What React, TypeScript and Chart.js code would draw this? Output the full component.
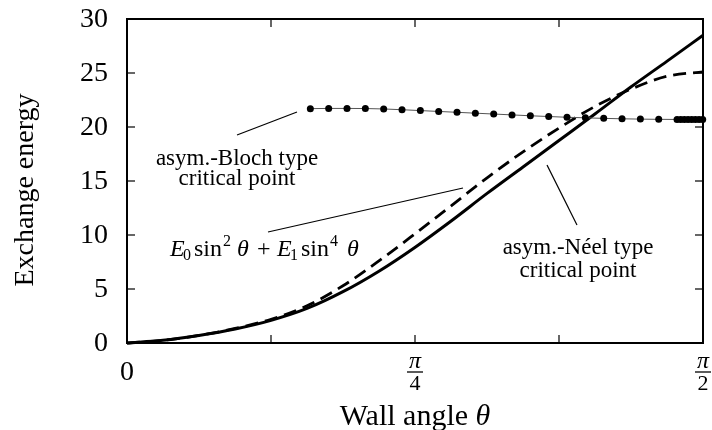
import React, { useEffect, useRef } from "react";
import { Chart, registerables } from "chart.js";
Chart.register(...registerables);

// ---- data ----
const curveTheta = [0, 0.098, 0.196, 0.295, 0.393, 0.491, 0.589, 0.687, 0.785, 0.884, 0.982, 1.08, 1.178, 1.276, 1.374, 1.473, 1.571];
const neelEnergy = [0, 0.25, 0.7, 1.3, 2.1, 3.2, 4.75, 6.65, 8.85, 11.3, 13.85, 16.3, 18.75, 21.2, 23.7, 26.1, 28.5];
const fitEnergy = [0, 0.25, 0.7, 1.35, 2.2, 3.45, 5.3, 7.6, 10.1, 12.7, 15.3, 17.7, 19.9, 21.9, 23.5, 24.7, 25.1];
const blochTheta = [0.5, 0.55, 0.6, 0.65, 0.7, 0.75, 0.8, 0.85, 0.9, 0.95, 1.0, 1.05, 1.1, 1.15, 1.2, 1.25, 1.3, 1.35, 1.4, 1.45, 1.5, 1.51, 1.52, 1.53, 1.54, 1.55, 1.56, 1.57];
const blochEnergy = [21.7, 21.72, 21.72, 21.71, 21.67, 21.6, 21.52, 21.44, 21.36, 21.28, 21.2, 21.12, 21.04, 20.97, 20.9, 20.85, 20.8, 20.76, 20.73, 20.71, 20.7, 20.7, 20.7, 20.7, 20.7, 20.7, 20.7, 20.7];

const xTickValues = [0, 0.3927, 0.7854, 1.1781, 1.5708];
const xTickLabels = ["0", "", "π/4", "", "π/2"];
const yTickValues = [0, 5, 10, 15, 20, 25, 30];
const yTickLabels = ["0", "5", "10", "15", "20", "25", "30"];

const xTitle = "Wall angle ";
const xTitleSymbol = "θ";
const yTitle = "Exchange energy";

// annotations (data coordinates: theta, energy)
const blochLeader = [0.3, 19.26, 0.4636, 21.39];
const formulaLeader = [0.3845, 10.28, 0.9163, 14.35];
const neelLeader = [1.1454, 16.48, 1.2272, 10.93];
const blochLabel = ["asym.-Bloch type", "critical point"];
const blochLabelAt = [0.3, 16.48];
const neelLabel = ["asym.-Néel type", "critical point"];
const neelLabelAt = [1.2299, 8.24];
const formulaAt = [0.117, 8.06];

const SERIF = "'Liberation Serif', 'Times New Roman', serif";

const decorPlugin = {
  id: "decor",
  beforeDraw(chart: any) {
    const ctx = chart.ctx;
    ctx.save();
    ctx.fillStyle = "#fff";
    ctx.fillRect(0, 0, chart.width, chart.height);
    ctx.restore();
  },
  afterDatasetsDraw(chart: any) {
    const ctx: CanvasRenderingContext2D = chart.ctx;
    const { left, right, top, bottom } = chart.chartArea;
    const xs = chart.scales.x;
    const ys = chart.scales.y;
    const X = (v: number) => xs.getPixelForValue(v);
    const Y = (v: number) => ys.getPixelForValue(v);
    const line = (x1: number, y1: number, x2: number, y2: number) => {
      ctx.beginPath();
      ctx.moveTo(x1, y1);
      ctx.lineTo(x2, y2);
      ctx.stroke();
    };
    ctx.save();
    ctx.strokeStyle = "#000";
    ctx.fillStyle = "#000";

    // inward tick marks
    ctx.lineWidth = 1.2;
    xTickValues.forEach((v) => {
      const px = X(v);
      line(px, bottom, px, bottom - 8);
      line(px, top, px, top + 8);
    });
    yTickValues.forEach((v) => {
      const py = Y(v);
      line(left, py, left + 8, py);
      line(right, py, right - 8, py);
    });

    // frame
    ctx.lineWidth = 2;
    ctx.strokeRect(left, top, right - left, bottom - top);

    // y tick labels
    ctx.font = `28px ${SERIF}`;
    ctx.textAlign = "right";
    ctx.textBaseline = "middle";
    yTickValues.forEach((v, i) => {
      ctx.fillText(yTickLabels[i], left - 19, Y(v) + 1);
    });

    // x tick labels
    xTickValues.forEach((v, i) => {
      const lab = xTickLabels[i];
      if (!lab) return;
      const px = X(v);
      if (lab.includes("/")) {
        const [num, den] = lab.split("/");
        ctx.textAlign = "center";
        ctx.textBaseline = "alphabetic";
        ctx.font = `italic 24px ${SERIF}`;
        ctx.fillText(num, px, bottom + 25);
        ctx.lineWidth = 1.3;
        line(px - 8, bottom + 29, px + 8, bottom + 29);
        ctx.font = `22px ${SERIF}`;
        ctx.fillText(den, px, bottom + 47);
      } else {
        ctx.textAlign = "center";
        ctx.textBaseline = "middle";
        ctx.font = `28px ${SERIF}`;
        ctx.fillText(lab, px, bottom + 30);
      }
    });

    // x title
    ctx.textBaseline = "alphabetic";
    ctx.font = `30px ${SERIF}`;
    const w1 = ctx.measureText(xTitle).width;
    ctx.font = `italic 30px ${SERIF}`;
    const w2 = ctx.measureText(xTitleSymbol).width;
    const cx = (left + right) / 2;
    const sx = cx - (w1 + w2) / 2;
    ctx.textAlign = "left";
    ctx.font = `30px ${SERIF}`;
    ctx.fillText(xTitle, sx, bottom + 82);
    ctx.font = `italic 30px ${SERIF}`;
    ctx.fillText(xTitleSymbol, sx + w1, bottom + 82);

    // y title
    ctx.save();
    ctx.translate(33, (top + bottom) / 2 + 9);
    ctx.rotate(-Math.PI / 2);
    ctx.textAlign = "center";
    ctx.textBaseline = "alphabetic";
    ctx.font = `28px ${SERIF}`;
    ctx.fillText(yTitle, 0, 0);
    ctx.restore();

    // leader lines
    ctx.lineWidth = 1.2;
    [blochLeader, formulaLeader, neelLeader].forEach((l) => {
      line(X(l[0]), Y(l[1]), X(l[2]), Y(l[3]));
    });

    // labels
    ctx.font = `23px ${SERIF}`;
    ctx.textAlign = "center";
    ctx.textBaseline = "alphabetic";
    blochLabel.forEach((t, i) => ctx.fillText(t, X(blochLabelAt[0]), Y(blochLabelAt[1]) + i * 20));
    neelLabel.forEach((t, i) => ctx.fillText(t, X(neelLabelAt[0]), Y(neelLabelAt[1]) + i * 23));

    // formula E0 sin^2 θ + E1 sin^4 θ
    const fx = X(formulaAt[0]);
    const fy = Y(formulaAt[1]);
    const big = `24px ${SERIF}`;
    const bigIt = `italic 24px ${SERIF}`;
    const small = `16px ${SERIF}`;
    ctx.textAlign = "left";
    const put = (t: string, f: string, x: number, dy: number) => {
      ctx.font = f;
      ctx.fillText(t, fx + x, fy + dy);
      return ctx.measureText(t).width;
    };
    put("E", bigIt, 0, 0);
    put("0", small, 13, 4);
    let w = put("sin", big, 24, 0);
    put("2", small, 24 + w + 1, -10);
    put("θ", bigIt, 67, 0);
    put("+", big, 87, 0);
    put("E", bigIt, 107, 0);
    put("1", small, 120, 4);
    w = put("sin", big, 131, 0);
    put("4", small, 131 + w + 1, -10);
    put("θ", bigIt, 177, 0);

    ctx.restore();
  },
};

export default function App() {
  const ref = useRef<HTMLCanvasElement>(null);
  useEffect(() => {
    if (!ref.current) return;
    const chart = new Chart(ref.current, {
      type: "line",
      data: {
        datasets: [
          {
            label: "asym.-Bloch type critical point",
            data: blochTheta.map((t, i) => ({ x: t, y: blochEnergy[i] })),
            borderColor: "#555",
            borderWidth: 1,
            pointRadius: 3.5,
            pointBackgroundColor: "#000",
            pointBorderWidth: 0,
            tension: 0,
            clip: false,
          },
          {
            label: "E0 sin^2 + E1 sin^4",
            data: curveTheta.map((t, i) => ({ x: t, y: fitEnergy[i] })),
            borderColor: "#000",
            borderWidth: 2.8,
            borderDash: [13, 7],
            pointRadius: 0,
            cubicInterpolationMode: "monotone",
            clip: false,
          },
          {
            label: "asym.-Néel type critical point",
            data: curveTheta.map((t, i) => ({ x: t, y: neelEnergy[i] })),
            borderColor: "#000",
            borderWidth: 3,
            pointRadius: 0,
            cubicInterpolationMode: "monotone",
            clip: false,
          },
        ],
      },
      options: {
        animation: false,
        responsive: false,
        devicePixelRatio: 1,
        layout: { padding: { left: 127, top: 19, right: 9, bottom: 87 } },
        plugins: { legend: { display: false }, tooltip: { enabled: false } },
        scales: {
          x: { type: "linear", display: false, min: 0, max: 1.5708 },
          y: { type: "linear", display: false, min: 0, max: 30 },
        },
      },
      plugins: [decorPlugin],
    } as any);
    return () => chart.destroy();
  }, []);
  return (
    <div style={{ position: "fixed", left: 0, top: 0, width: 712, height: 430, background: "#fff" }}>
      <canvas ref={ref} width={712} height={430} style={{ width: 712, height: 430, display: "block" }} />
    </div>
  );
}
